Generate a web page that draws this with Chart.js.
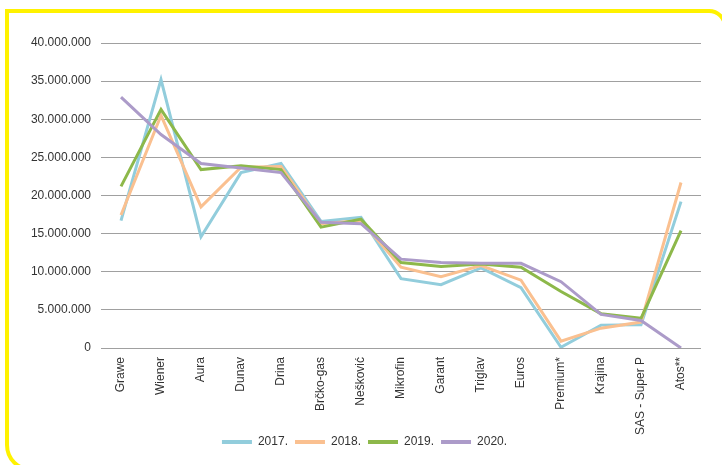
<!DOCTYPE html>
<html>
<head>
<meta charset="utf-8">
<script src="https://cdn.jsdelivr.net/npm/chart.js@4.4.1/dist/chart.umd.min.js"></script>
<style>
  html, body { margin: 0; padding: 0; background: #fff; overflow: hidden; }
  #frame {
    position: absolute; left: 5px; top: 9px; width: 722px; height: 463px;
    border: 4px solid #fff200; border-radius: 0 18px 0 27px; box-sizing: border-box;
  }
  #wrap { position: absolute; left: 0; top: 0; width: 722px; height: 465px; }
</style>
</head>
<body>
<div id="frame"></div>
<div id="wrap"><canvas id="chart"></canvas></div>
<script>
const companies = ["Grawe", "Wiener", "Aura", "Dunav", "Drina", "Brčko-gas", "Nešković", "Mikrofin",
  "Garant", "Triglav", "Euros", "Premium*", "Krajina", "SAS - Super P", "Atos**"];
const years = ["2017.", "2018.", "2019.", "2020."];

const v2017 = [16700000, 35200000, 14600000, 23000000, 24200000, 16600000, 17150000, 9100000,
  8300000, 10500000, 7900000, 100000, 3000000, 3050000, 19200000];
const v2018 = [17450000, 30500000, 18500000, 23700000, 23800000, 16300000, 16700000, 10600000,
  9350000, 10800000, 8900000, 900000, 2600000, 3400000, 21700000];
const v2019 = [21200000, 31300000, 23400000, 23900000, 23400000, 15850000, 16900000, 11200000,
  10700000, 11000000, 10600000, 7400000, 4500000, 3900000, 15400000];
const v2020 = [32900000, 28000000, 24200000, 23600000, 23000000, 16500000, 16300000, 11650000,
  11200000, 11100000, 11100000, 8700000, 4400000, 3600000, 0];

const yTicks = [0, 5000000, 10000000, 15000000, 20000000, 25000000, 30000000, 35000000, 40000000];
const colors = ["#92cddc", "#fac090", "#8db84a", "#ac9bc9"];

function fmt(n) {
  return String(n).replace(/\B(?=(\d{3})+(?!\d))/g, ".");
}

const series = [v2017, v2018, v2019, v2020];

Chart.defaults.font.family = "'Liberation Sans', Arial, sans-serif";
Chart.defaults.font.size = 12;
Chart.defaults.color = "#333";

// legend sits a bit higher than the layout puts it, overlapping the label box
const liftLegend = {
  id: "liftLegend",
  afterLayout(chart) {
    chart.legend.top -= 7;
    chart.legend.bottom -= 7;
  }
};

new Chart(document.getElementById("chart"), {
  type: "line",
  data: {
    labels: companies,
    datasets: series.map((d, i) => ({
      label: years[i],
      data: d,
      borderColor: colors[i],
      backgroundColor: colors[i],
      borderWidth: 3,
      pointRadius: 0,
      tension: 0,
      order: 3 - i
    }))
  },
  plugins: [liftLegend],
  options: {
    responsive: true,
    maintainAspectRatio: false,
    animation: false,
    layout: { padding: { left: 28, right: 21, top: 43, bottom: 0 } },
    plugins: {
      tooltip: { enabled: false },
      legend: {
        position: "bottom",
        labels: {
          boxWidth: 30,
          boxHeight: 4,
          padding: 7,
          sort: (a, b) => a.datasetIndex - b.datasetIndex,
          generateLabels: chart => {
            const items = Chart.defaults.plugins.legend.labels.generateLabels(chart);
            items.forEach(it => { it.lineWidth = 0; });
            return items;
          }
        }
      }
    },
    scales: {
      x: {
        offset: true,
        grid: { display: false, drawTicks: false },
        border: { display: false },
        ticks: { minRotation: 90, maxRotation: 90, autoSkip: false, padding: 9 },
        afterFit: s => { s.height = 88; }
      },
      y: {
        min: 0,
        max: 40000000,
        afterBuildTicks: s => { s.ticks = yTicks.map(v => ({ value: v })); },
        grid: { color: "#a0a0a0", lineWidth: 1, drawTicks: false },
        border: { display: false },
        ticks: { padding: 10, callback: v => fmt(v) },
        afterFit: s => { s.width = 73; }
      }
    }
  }
});
</script>
</body>
</html>
